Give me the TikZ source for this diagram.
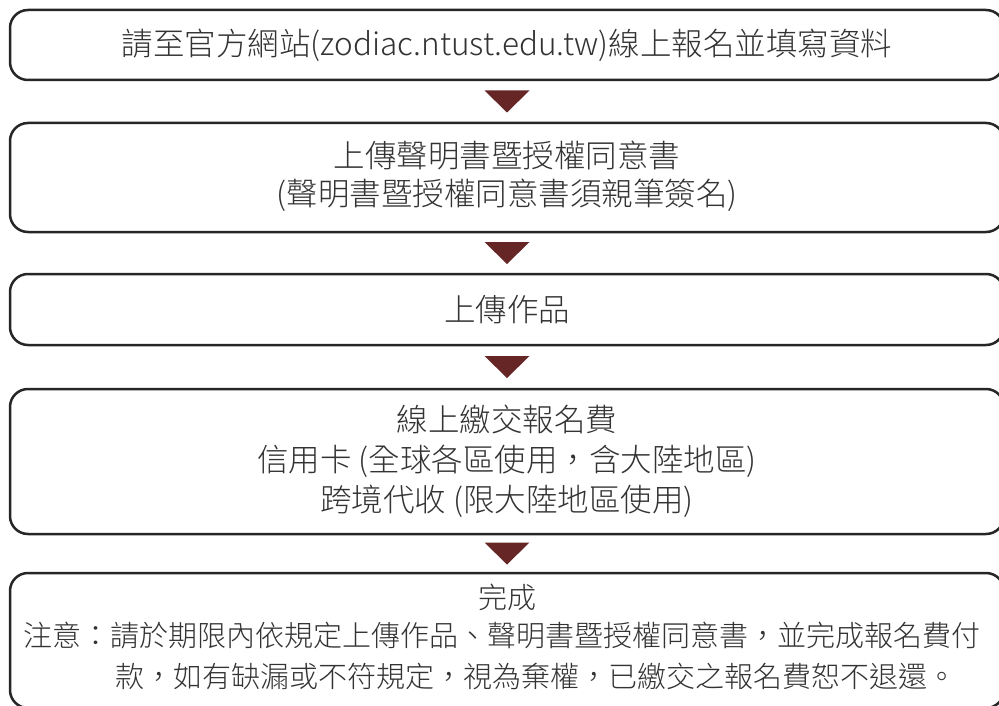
\documentclass[tikz,border=0pt]{standalone}
\usepackage{fontspec}
\setmainfont{Noto Sans CJK TC Light}
\usetikzlibrary{calc}
\definecolor{tricol}{RGB}{103,38,38}
\definecolor{txtcol}{RGB}{51,51,51}
\begin{document}
\begin{tikzpicture}[x=1pt,y=-1pt,
  box/.style={draw=black!85, line width=2.5pt, rounded corners=18pt, minimum width=994pt, inner sep=0pt, outer sep=0pt, anchor=north west, rectangle},
  lbl/.style={text=txtcol, font=\fontsize{31.5}{38}\selectfont, inner sep=0pt, align=center},
  lblw/.style={text=txtcol, font=\fontsize{29}{38}\selectfont, inner sep=0pt, anchor=west},
  tri/.style={fill=tricol}]
\clip (0,0) rectangle (999,706);
\fill[white] (0,0) rectangle (999,706);
\node[box, minimum height=70pt]  (b1) at (10,10)  {};
\node[box, minimum height=109pt] (b2) at (10,123) {};
\node[box, minimum height=71pt]  (b3) at (10,274) {};
\node[box, minimum height=145pt] (b4) at (10,389) {};
\node[box, minimum height=135pt] (b5) at (10,573) {};
\node[lbl] (t1) at (507,45) {請至官方網站(zodiac.ntust.edu.tw)線上報名並填寫資料};
\node[lbl] (t2) at (507,176) {上傳聲明書暨授權同意書\\(聲明書暨授權同意書須親筆簽名)};
\node[lbl] (t3) at (507,310) {上傳作品};
\node[lbl, font=\fontsize{31.5}{40}\selectfont] (t4) at (507,461) {線上繳交報名費\\信用卡 (全球各區使用，含大陸地區)\\跨境代收 (限大陸地區使用)};
\node[lbl, font=\fontsize{29}{38}\selectfont] (t5) at (507,597) {完成};
\node[lblw] (t6) at (23,636) {注意：請於期限內依規定上傳作品、聲明書暨授權同意書，並完成報名費付};
\node[lblw] (t7) at (115,676) {款，如有缺漏或不符規定，視為棄權，已繳交之報名費恕不退還。};
\foreach \a/\b in {b1/b2,b2/b3,b3/b4,b4/b5}{
  \fill[tri] ($(\a.south)!0.5!(\b.north)+(-22.5,-11)$) -- ++(45,0) -- ++(-22.5,22) -- cycle;
}
\end{tikzpicture}
\end{document}
